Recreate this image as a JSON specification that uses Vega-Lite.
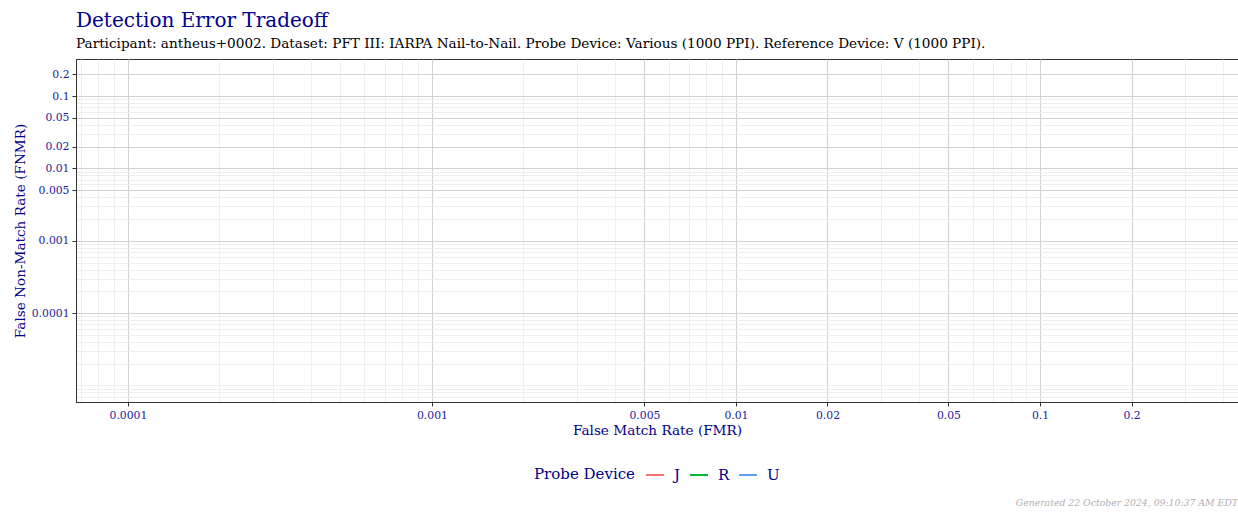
{
  "$schema": "https://vega.github.io/schema/vega-lite/v6.json",
  "width": 1162,
  "height": 343,
  "autosize": {"type": "none"},
  "padding": {"left": 76, "top": 59, "right": 0, "bottom": 110},
  "background": "white",
  "title": {
    "text": "Detection Error Tradeoff",
    "subtitle": "Participant: antheus+0002. Dataset: PFT III: IARPA Nail-to-Nail. Probe Device: Various (1000 PPI). Reference Device: V (1000 PPI).",
    "anchor": "start",
    "frame": "group",
    "font": "DejaVu Serif",
    "fontSize": 20,
    "fontWeight": "normal",
    "color": "#00008B",
    "subtitleFont": "DejaVu Serif",
    "subtitleFontSize": 13.6,
    "subtitleColor": "#000000",
    "subtitlePadding": 6,
    "offset": 8
  },
  "config": {
    "view": {"stroke": "#333333", "strokeWidth": 1},
    "font": "DejaVu Serif"
  },
  "datasets": {
    "det": [
      {"device": "J", "fmr": null, "fnmr": null},
      {"device": "R", "fmr": null, "fnmr": null},
      {"device": "U", "fmr": null, "fnmr": null}
    ],
    "note": [
      {"text": "Generated 22 October 2024, 09:10:37 AM EDT"}
    ]
  },
  "layer": [
    {
      "data": {"name": "det"},
      "mark": {"type": "line", "strokeWidth": 1.5, "clip": true},
      "encoding": {
        "x": {
          "field": "fmr",
          "type": "quantitative",
          "scale": {"type": "log", "domain": [0.0000675, 0.448], "nice": false, "zero": false},
          "axis": {
            "title": "False Match Rate (FMR)",
            "titleFont": "DejaVu Serif",
            "titleFontSize": 13.6,
            "titleFontWeight": "normal",
            "titleColor": "#00008B",
            "titlePadding": 4,
            "values": [0.00007, 0.00008, 0.00009, 0.0001, 0.0002, 0.0003, 0.0004, 0.0005, 0.0006, 0.0007, 0.0008, 0.0009, 0.001, 0.002, 0.003, 0.004, 0.005, 0.006, 0.007, 0.008, 0.009, 0.01, 0.02, 0.03, 0.04, 0.05, 0.06, 0.07, 0.08, 0.09, 0.1, 0.2, 0.3, 0.4],
            "labelExpr": "indexof([0.0001, 0.001, 0.005, 0.01, 0.02, 0.05, 0.1, 0.2], datum.value) >= 0 ? datum.value + '' : ''",
            "labelOverlap": false,
            "labelFlush": false,
            "labelFont": "DejaVu Serif",
            "labelFontSize": 10.8,
            "labelColor": "#1a1a9a",
            "labelPadding": 3,
            "grid": true,
            "gridColor": {"condition": {"test": "indexof([0.0001, 0.001, 0.005, 0.01, 0.02, 0.05, 0.1, 0.2], datum.value) >= 0", "value": "#d2d2d2"}, "value": "#ebebeb"},
            "gridWidth": {"condition": {"test": "indexof([0.0001, 0.001, 0.005, 0.01, 0.02, 0.05, 0.1, 0.2], datum.value) >= 0", "value": 1.1}, "value": 0.8},
            "ticks": true,
            "tickSize": 4,
            "tickColor": "#333333",
            "tickOpacity": {"condition": {"test": "indexof([0.0001, 0.001, 0.005, 0.01, 0.02, 0.05, 0.1, 0.2], datum.value) >= 0", "value": 1}, "value": 0},
            "domain": true,
            "domainColor": "#333333"
          }
        },
        "y": {
          "field": "fnmr",
          "type": "quantitative",
          "scale": {"type": "log", "domain": [0.0000059, 0.325], "nice": false, "zero": false},
          "axis": {
            "title": "False Non-Match Rate (FNMR)",
            "titleFont": "DejaVu Serif",
            "titleFontSize": 13.6,
            "titleFontWeight": "normal",
            "titleColor": "#00008B",
            "titlePadding": 4,
            "values": [0.000007, 0.000008, 0.000009, 0.00001, 0.00002, 0.00003, 0.00004, 0.00005, 0.00006, 0.00007, 0.00008, 0.00009, 0.0001, 0.0002, 0.0003, 0.0004, 0.0005, 0.0006, 0.0007, 0.0008, 0.0009, 0.001, 0.002, 0.003, 0.004, 0.005, 0.006, 0.007, 0.008, 0.009, 0.01, 0.02, 0.03, 0.04, 0.05, 0.06, 0.07, 0.08, 0.09, 0.1, 0.2],
            "labelExpr": "indexof([0.0001, 0.001, 0.005, 0.01, 0.02, 0.05, 0.1, 0.2], datum.value) >= 0 ? datum.value + '' : ''",
            "labelOverlap": false,
            "labelFlush": false,
            "labelFont": "DejaVu Serif",
            "labelFontSize": 10.8,
            "labelColor": "#1a1a9a",
            "labelPadding": 3,
            "grid": true,
            "gridColor": {"condition": {"test": "indexof([0.0001, 0.001, 0.005, 0.01, 0.02, 0.05, 0.1, 0.2], datum.value) >= 0", "value": "#d2d2d2"}, "value": "#ebebeb"},
            "gridWidth": {"condition": {"test": "indexof([0.0001, 0.001, 0.005, 0.01, 0.02, 0.05, 0.1, 0.2], datum.value) >= 0", "value": 1.1}, "value": 0.8},
            "ticks": true,
            "tickSize": 4,
            "tickColor": "#333333",
            "tickOpacity": {"condition": {"test": "indexof([0.0001, 0.001, 0.005, 0.01, 0.02, 0.05, 0.1, 0.2], datum.value) >= 0", "value": 1}, "value": 0},
            "domain": true,
            "domainColor": "#333333"
          }
        },
        "color": {
          "field": "device",
          "type": "nominal",
          "scale": {"domain": ["J", "R", "U"], "range": ["#F8766D", "#00BA38", "#619CFF"]},
          "legend": {
            "title": "Probe Device",
            "orient": "none",
            "legendX": 458,
            "legendY": 406,
            "direction": "horizontal",
            "titleOrient": "left",
            "titleAnchor": "middle",
            "titleBaseline": "middle",
            "titleFont": "DejaVu Serif",
            "titleFontSize": 15,
            "titleFontWeight": "normal",
            "titleColor": "#00008B",
            "titlePadding": 10,
            "labelFont": "DejaVu Serif",
            "labelFontSize": 15,
            "labelColor": "#00008B",
            "labelOffset": 9,
            "symbolType": "stroke",
            "symbolSize": 324,
            "symbolStrokeWidth": 2,
            "columnPadding": 5
          }
        }
      }
    },
    {
      "data": {"name": "note"},
      "mark": {"type": "text", "align": "right", "baseline": "alphabetic", "dy": 104, "font": "DejaVu Serif", "fontSize": 9.3, "fontStyle": "italic", "color": "#b0b0b0"},
      "encoding": {
        "x": {"datum": 0.448, "type": "quantitative"},
        "y": {"datum": 0.0000059, "type": "quantitative"},
        "text": {"field": "text"}
      }
    }
  ]
}
